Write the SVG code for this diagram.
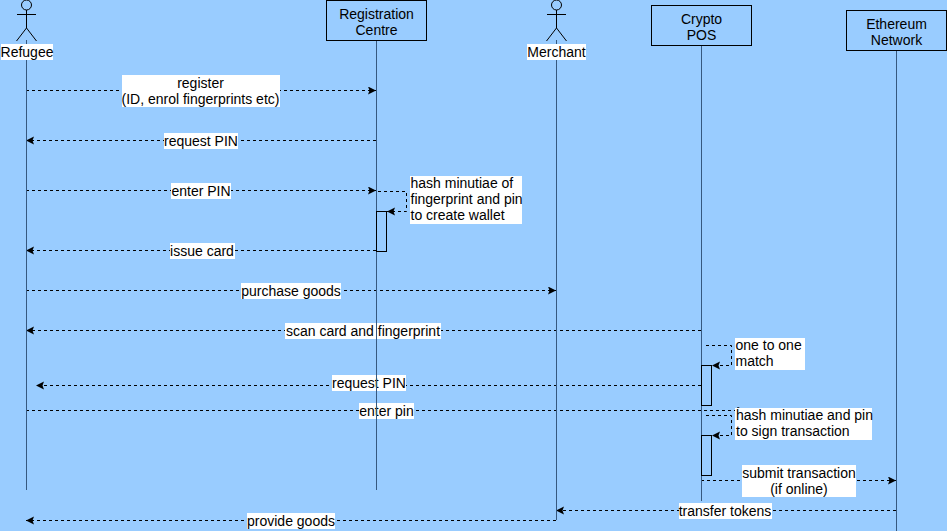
<svg xmlns="http://www.w3.org/2000/svg" width="947" height="531" viewBox="0 0 947 531">
<style>
text{font-family:"Liberation Sans",Arial,sans-serif;font-size:14px;fill:#000;text-anchor:middle}
.l{text-anchor:start}
.life{stroke:#36587f;stroke-width:1;fill:none}
.box{fill:#99ccff;stroke:#000;stroke-width:1}
.act{fill:#99ccff;stroke:#000;stroke-width:1}
.st{fill:none;stroke:#000;stroke-width:1}
.msg{fill:none;stroke:#000;stroke-width:1;stroke-dasharray:3 3;marker-end:url(#a)}
.bg{fill:#fff}
</style>
<defs>
<marker id="a" markerUnits="userSpaceOnUse" markerWidth="10" markerHeight="10" refX="8" refY="4" orient="auto"><path d="M0 0L8 4L0 8L1.500 4Z" fill="#000"/></marker>
</defs>
<rect width="947" height="531" fill="#99ccff"/>
<g id="connectors">
<line class="msg" x1="26" y1="90.500" x2="376" y2="90.500"/>
<line class="msg" x1="376" y1="140.500" x2="26" y2="140.500"/>
<line class="msg" x1="26" y1="190.500" x2="376" y2="190.500"/>
<path class="msg" d="M378 191.500H406.500V211.500H387"/>
<line class="msg" x1="376" y1="250.500" x2="26" y2="250.500"/>
<line class="msg" x1="26" y1="290.500" x2="556" y2="290.500"/>
<line class="msg" x1="701" y1="330.500" x2="26" y2="330.500"/>
<path class="msg" d="M706 345.500H731.500V365.500H712"/>
<line class="msg" x1="701" y1="385.500" x2="36" y2="385.500"/>
<line class="msg" x1="26" y1="410.500" x2="745" y2="410.500"/>
<path class="msg" d="M706 415.500H731.500V435.500H712"/>
<line class="msg" x1="701" y1="480.500" x2="896" y2="480.500"/>
<line class="msg" x1="896" y1="510.500" x2="556" y2="510.500"/>
<line class="msg" x1="556" y1="520.500" x2="26" y2="520.500"/>
</g>
<g id="labels">
<rect class="bg" x="122" y="75" width="158" height="32"/>
<text x="200.500" y="88">register</text>
<text x="200.500" y="104">(ID, enrol fingerprints etc)</text>
<rect class="bg" x="164" y="133" width="74" height="16"/>
<text x="201" y="146">request PIN</text>
<rect class="bg" x="171" y="183" width="60" height="16"/>
<text x="201" y="196">enter PIN</text>
<rect class="bg" x="410" y="176" width="112" height="48"/>
<text class="l" x="410.500" y="188">hash minutiae of</text>
<text class="l" x="410.500" y="204">fingerprint and pin</text>
<text class="l" x="410.500" y="220">to create wallet</text>
<rect class="bg" x="170" y="243" width="65" height="16"/>
<text x="202" y="256">issue card</text>
<rect class="bg" x="241" y="283" width="100" height="16"/>
<text x="291" y="296">purchase goods</text>
<rect class="bg" x="285" y="323" width="156" height="16"/>
<text x="363" y="336">scan card and fingerprint</text>
<rect class="bg" x="735" y="338" width="70" height="32"/>
<text class="l" x="735.500" y="350">one to one</text>
<text class="l" x="735.500" y="366">match</text>
<rect class="bg" x="332" y="375" width="74" height="16"/>
<text x="369" y="388">request PIN</text>
<rect class="bg" x="359" y="403" width="55" height="16"/>
<text x="386.500" y="416">enter pin</text>
<rect class="bg" x="735" y="408" width="137" height="32"/>
<text class="l" x="736" y="420">hash minutiae and pin</text>
<text class="l" x="736" y="436">to sign transaction</text>
<rect class="bg" x="742" y="465" width="114" height="32"/>
<text x="799" y="478">submit transaction</text>
<text x="799" y="494">(if online)</text>
<rect class="bg" x="679" y="503" width="93" height="16"/>
<text x="725" y="516">transfer tokens</text>
<rect class="bg" x="247" y="513" width="88" height="16"/>
<text x="291" y="526">provide goods</text>
</g>
<g id="lifelines">
<line class="life" x1="26.500" y1="40" x2="26.500" y2="490"/>
<line class="life" x1="376.500" y1="40" x2="376.500" y2="490"/>
<line class="life" x1="556.500" y1="40" x2="556.500" y2="520"/>
<line class="life" x1="701.500" y1="45" x2="701.500" y2="501"/>
<line class="life" x1="896.500" y1="50" x2="896.500" y2="531"/>
</g>
<g id="activations">
<rect class="act" x="376.500" y="211.500" width="10" height="40"/>
<rect class="act" x="701.500" y="365.500" width="10" height="40"/>
<rect class="act" x="701.500" y="435.500" width="10" height="40"/>
</g>
<g id="refugee">
<circle class="st" cx="26.500" cy="5" r="5"/>
<path class="st" d="M26.500 10V28M17 14.500H36M16.500 41L26.500 28L36.500 41"/>
<rect class="bg" x="1" y="44" width="52" height="16"/>
<text x="27" y="57">Refugee</text>
</g>
<g id="registration-centre">
<rect class="box" x="326.500" y="0.500" width="100" height="40"/>
<text x="376.500" y="19">Registration</text>
<text x="376.500" y="35">Centre</text>
</g>
<g id="merchant">
<circle class="st" cx="556.500" cy="5" r="5"/>
<path class="st" d="M556.500 10V28M547 14.500H566M546.500 41L556.500 28L566.500 41"/>
<rect class="bg" x="527" y="44" width="59" height="16"/>
<text x="556.500" y="57">Merchant</text>
</g>
<g id="crypto-pos">
<rect class="box" x="651.500" y="5.500" width="100" height="40"/>
<text x="701.500" y="24">Crypto</text>
<text x="701.500" y="40">POS</text>
</g>
<g id="ethereum-network">
<rect class="box" x="846.500" y="10.500" width="100" height="40"/>
<text x="896.500" y="29">Ethereum</text>
<text x="896.500" y="45">Network</text>
</g>
</svg>
